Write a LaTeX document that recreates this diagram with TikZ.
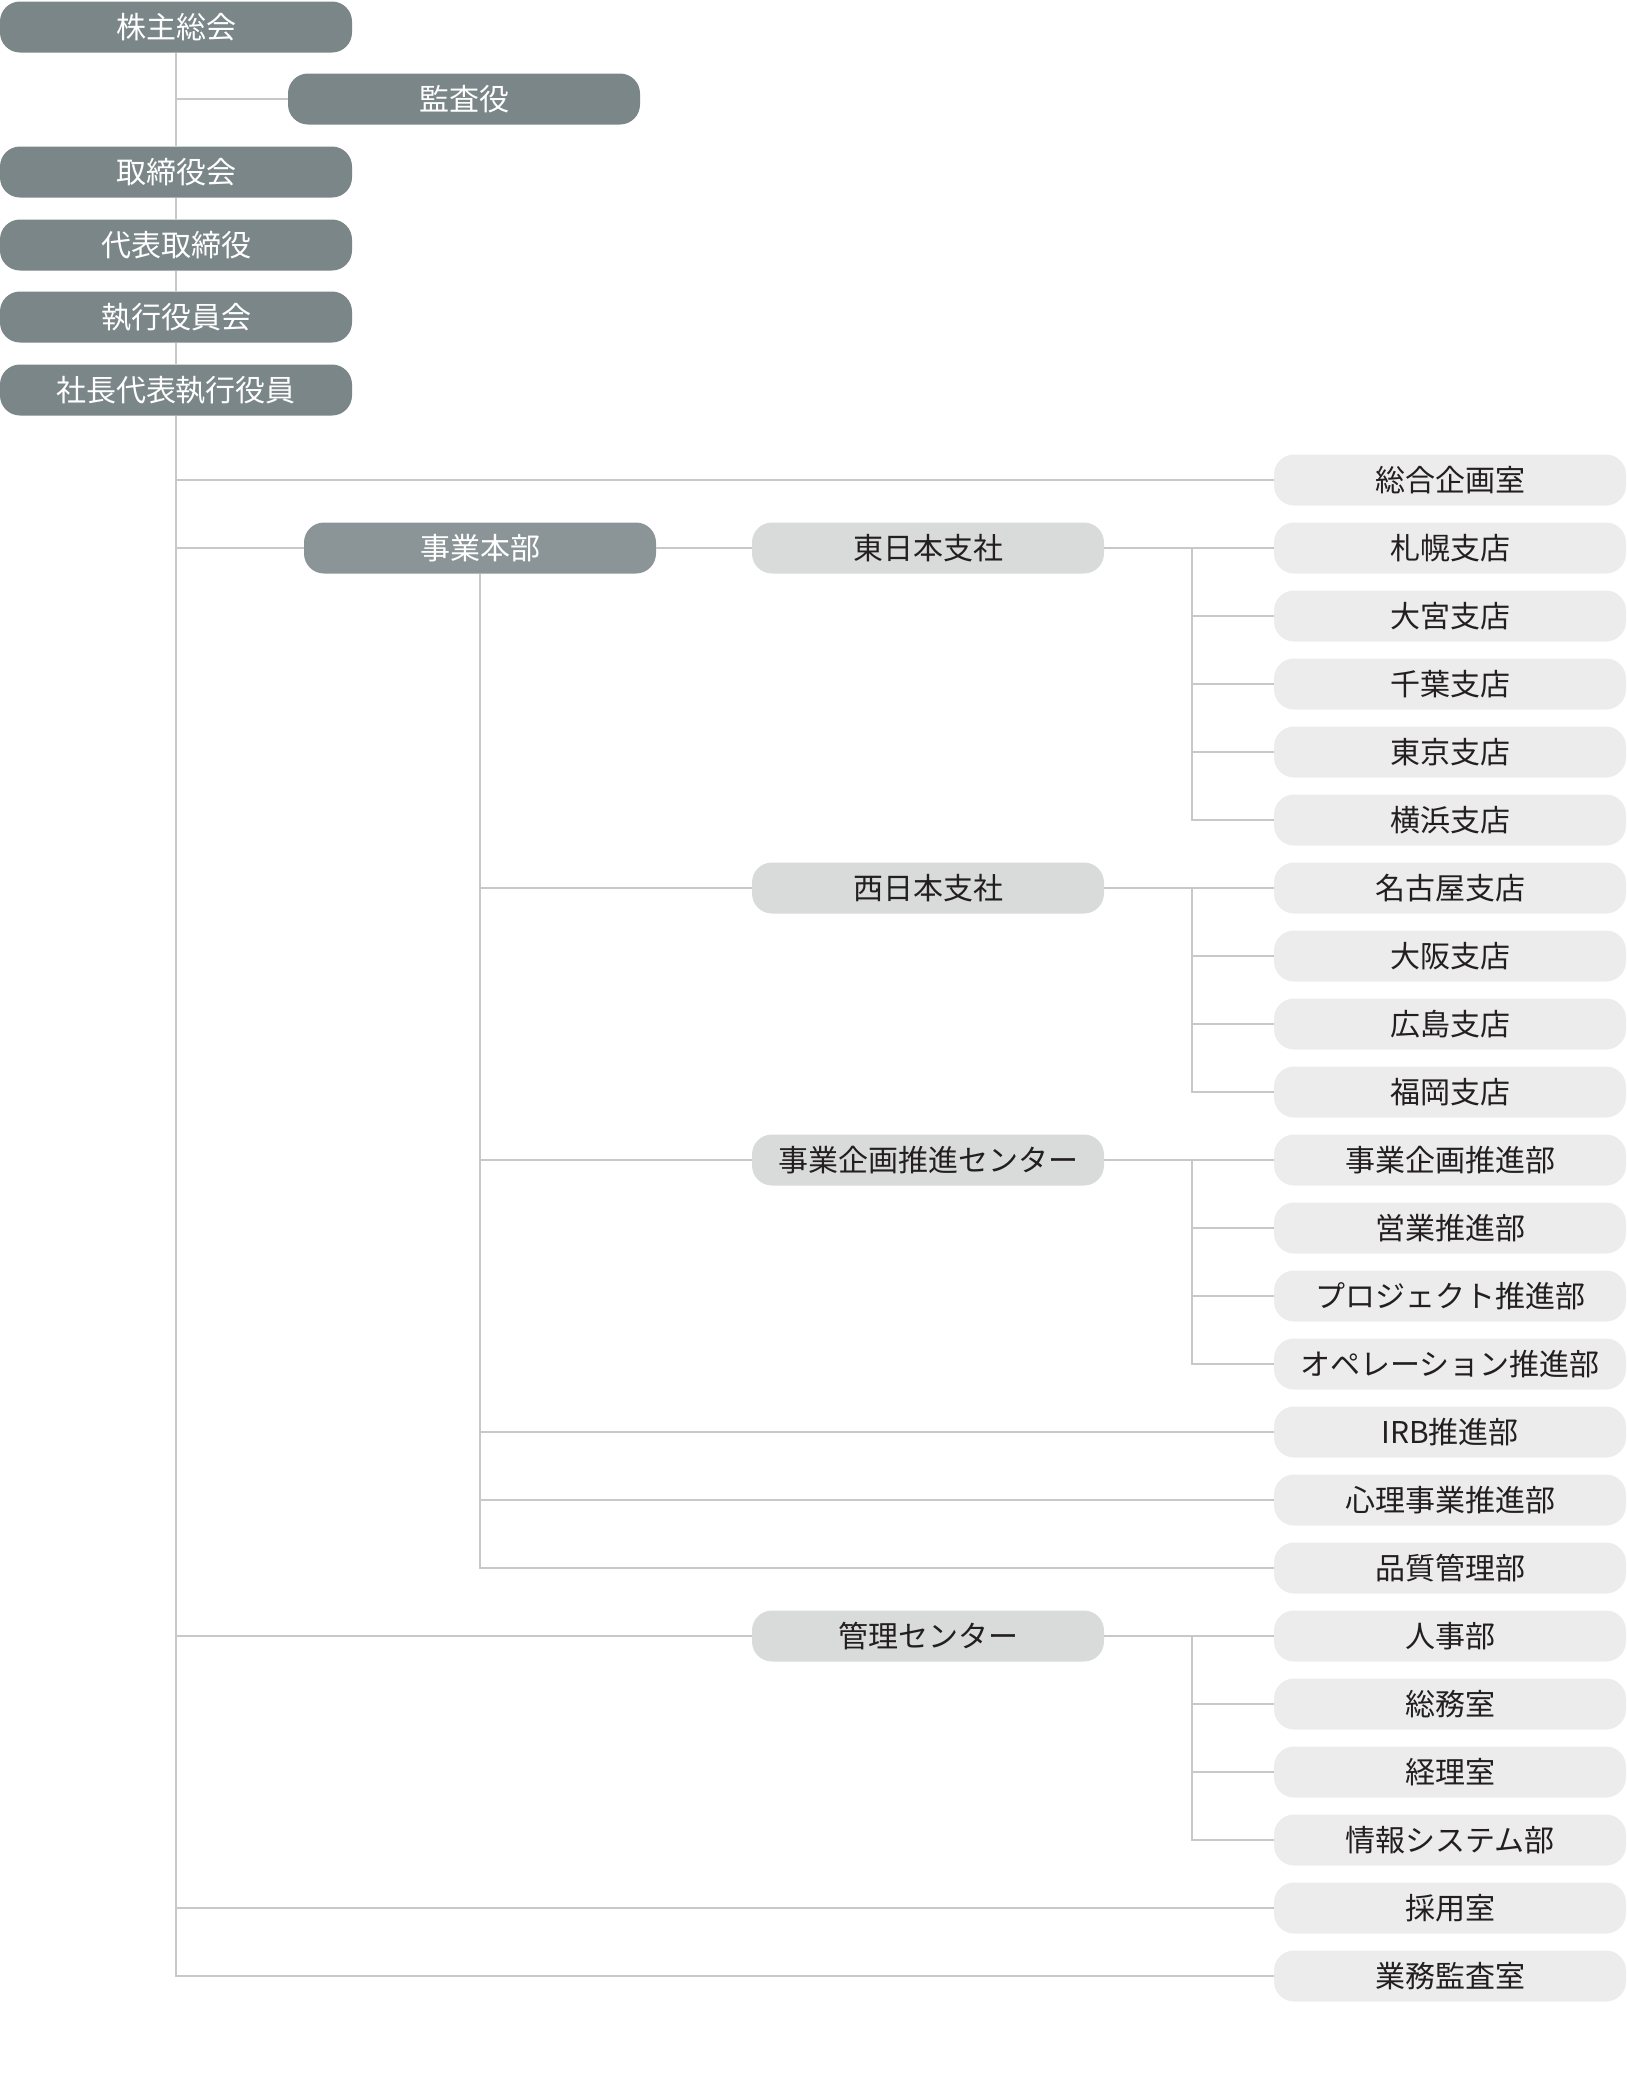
\documentclass[tikz,border=0pt]{standalone}
\usepackage{fontspec}
\setmainfont{Noto Sans CJK JP}
\usetikzlibrary{positioning}
\definecolor{darkbox}{HTML}{7B8689}
\definecolor{midbox}{HTML}{8B9598}
\definecolor{lightbox}{HTML}{D9DADA}
\definecolor{palebox}{HTML}{EBECEB}
\definecolor{linegray}{HTML}{C8C8C8}
\definecolor{textdark}{HTML}{231F20}
\tikzstyle{board} = [rectangle, rounded corners=20pt, minimum width=352pt, minimum height=51pt, inner sep=0pt, text centered, fill=darkbox, text=white, font=\fontsize{30}{35}\selectfont]
\tikzstyle{division} = [board, fill=midbox]
\tikzstyle{branch} = [board, fill=lightbox, text=textdark]
\tikzstyle{unit} = [board, fill=palebox, text=textdark]
\tikzstyle{link} = [line width=2pt, draw=linegray]

\begin{document}
\begin{tikzpicture}[x=1pt, y=-1pt]
        \useasboundingbox (0,0) rectangle (1627,2099);
        % Top management
        \node (kabunushi) [board] at (176,27) {株主総会};
        \node (kansa) [board] at (464,99) {監査役};
        \node (torishimari) [board] at (176,172) {取締役会};
        \node (daihyo) [board] at (176,245) {代表取締役};
        \node (shikko) [board] at (176,317) {執行役員会};
        \node (shacho) [board] at (176,390) {社長代表執行役員};

        % Divisions and centers
        \node (jigyo) [division] at (480,548) {事業本部};
        \node (higashi) [branch] at (928,548) {東日本支社};
        \node (nishi) [branch] at (928,888) {西日本支社};
        \node (kikakucenter) [branch] at (928,1160) {事業企画推進センター};
        \node (kanri) [branch] at (928,1636) {管理センター};

        % Departments and branches
        \foreach \name/\label [count=\i from 0] in {sogo/総合企画室, sapporo/札幌支店, omiya/大宮支店, chiba/千葉支店, tokyo/東京支店, yokohama/横浜支店, nagoya/名古屋支店, osaka/大阪支店, hiroshima/広島支店, fukuoka/福岡支店, jigyokikaku/事業企画推進部, eigyo/営業推進部, project/プロジェクト推進部, operation/オペレーション推進部, irb/IRB推進部, shinri/心理事業推進部, hinshitsu/品質管理部, jinji/人事部, somu/総務室, keiri/経理室, joho/情報システム部, saiyo/採用室, gyomu/業務監査室}
            \node (\name) [unit] at (1450,{480+68*\i}) {\label};

        \coordinate (trunk) at (177,0);
        \coordinate (bar) at (1192,0);

        % Main line
        \draw [link] (kabunushi) -- (torishimari) -- (daihyo) -- (shikko) -- (shacho);
        \draw [link] (shacho) |- (gyomu);
        \foreach \u in {kansa, sogo, jigyo, kanri, saiyo}
            \draw [link] (trunk |- \u) -- (\u);

        % Jigyo honbu
        \draw [link] (jigyo) -- (higashi);
        \draw [link] (jigyo) |- (hinshitsu);
        \foreach \u in {nishi, kikakucenter, irb, shinri}
            \draw [link] (jigyo |- \u) -- (\u);

        % Brackets
        \draw [link] (higashi) -- (sapporo);
        \draw [link] (bar |- sapporo) |- (yokohama);
        \draw [link] (nishi) -- (nagoya);
        \draw [link] (bar |- nagoya) |- (fukuoka);
        \draw [link] (kikakucenter) -- (jigyokikaku);
        \draw [link] (bar |- jigyokikaku) |- (operation);
        \draw [link] (kanri) -- (jinji);
        \draw [link] (bar |- jinji) |- (joho);
        \foreach \u in {omiya, chiba, tokyo, osaka, hiroshima, eigyo, project, somu, keiri}
            \draw [link] (bar |- \u) -- (\u);
\end{tikzpicture}
\end{document}
